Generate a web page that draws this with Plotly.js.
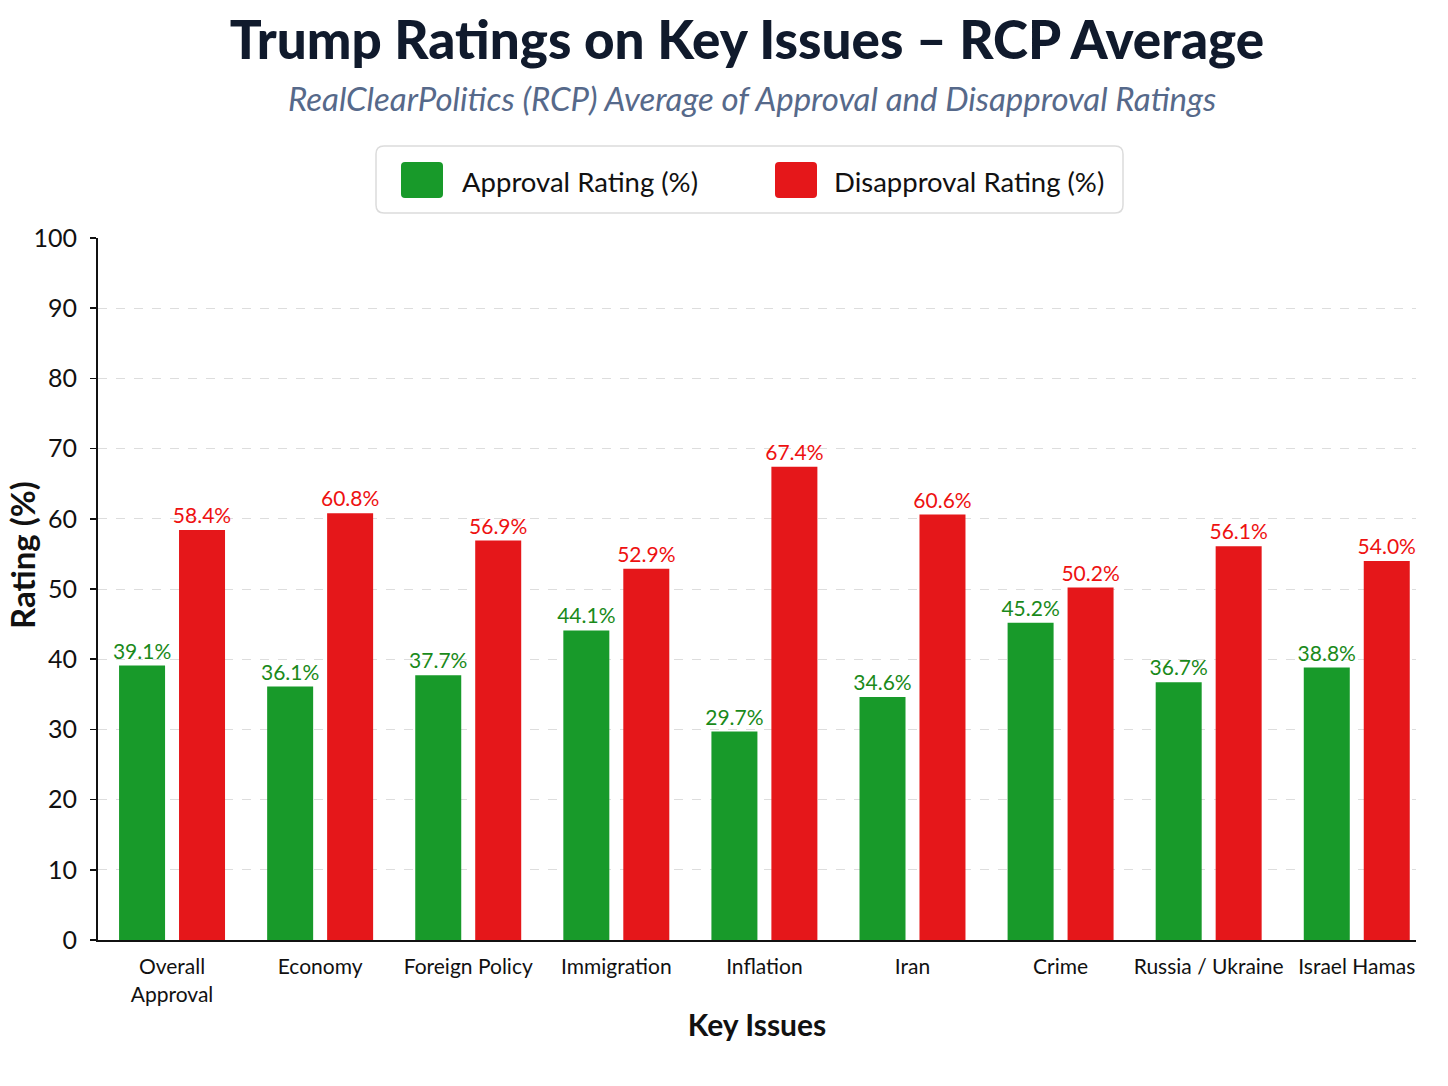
<!DOCTYPE html>
<html>
<head>
<meta charset="utf-8">
<script src="https://cdn.plot.ly/plotly-3.0.1.min.js"></script>
<style>
  html, body { margin: 0; padding: 0; background: #fff; }
  #chart { width: 1448px; height: 1086px; }
</style>
</head>
<body>
<div id="chart"></div>
<script>
const categories = ["Overall<br>Approval", "Economy", "Foreign Policy", "Immigration", "Inflation", "Iran", "Crime", "Russia / Ukraine", "Israel Hamas"];
const approval = [39.1, 36.1, 37.7, 44.1, 29.7, 34.6, 45.2, 36.7, 38.8];
const disapproval = [58.4, 60.8, 56.9, 52.9, 67.4, 60.6, 50.2, 56.1, 54.0];
const yTicks = [0, 10, 20, 30, 40, 50, 60, 70, 80, 90, 100];

const FONT = 'Lato, "Noto Sans", sans-serif';
const GREEN = '#189a2a';
const RED = '#e5171a';

const traces = [
  {
    type: 'bar', name: 'Approval Rating (%)', x: categories, y: approval,
    marker: { color: GREEN },
    text: approval.map(v => v.toFixed(1) + '%'),
    textposition: 'outside', cliponaxis: false, constraintext: 'none',
    textfont: { family: FONT, size: 21, color: '#1a8a1a' },
    showlegend: false, hoverinfo: 'x+y'
  },
  {
    type: 'bar', name: 'Disapproval Rating (%)', x: categories, y: disapproval,
    marker: { color: RED },
    text: disapproval.map(v => v.toFixed(1) + '%'),
    textposition: 'outside', cliponaxis: false, constraintext: 'none',
    textfont: { family: FONT, size: 21, color: '#ee1111' },
    showlegend: false, hoverinfo: 'x+y'
  }
];

const H = 702, W = 1318;
function py(px) { return (940 - px) / H; }
function pxx(px) { return (px - 98) / W; }
function roundRect(x0, y0, x1, y1, r) {
  const rx = r / W, ry = r / H;
  const X0 = pxx(x0), X1 = pxx(x1), Ytop = py(y0), Ybot = py(y1);
  return `M ${X0 + rx} ${Ytop} L ${X1 - rx} ${Ytop} Q ${X1} ${Ytop} ${X1} ${Ytop - ry} ` +
         `L ${X1} ${Ybot + ry} Q ${X1} ${Ybot} ${X1 - rx} ${Ybot} L ${X0 + rx} ${Ybot} ` +
         `Q ${X0} ${Ybot} ${X0} ${Ybot + ry} L ${X0} ${Ytop - ry} Q ${X0} ${Ytop} ${X0 + rx} ${Ytop} Z`;
}

const layout = {
  width: 1448, height: 1086,
  paper_bgcolor: '#ffffff', plot_bgcolor: '#ffffff',
  margin: { l: 98, r: 32, t: 238, b: 146 },
  barmode: 'group', bargap: 0.19, bargroupgap: 0.233,
  title: {
    text: 'Trump Ratings on Key Issues – RCP Average',
    font: { family: FONT, size: 53, color: '#101a2c', weight: 900 },
    x: pxx(747), xanchor: 'center', xref: 'paper', y: 0.963, yanchor: 'middle'
  },
  xaxis: {
    type: 'category', range: [-0.5, 8.4],
    showline: true, linecolor: '#111', linewidth: 2,
    ticks: '', showgrid: false, tickangle: 0, ticklabelstandoff: 7,
    tickfont: { family: FONT, size: 21, color: '#111' },
    title: { text: 'Key Issues', font: { family: FONT, size: 30, color: '#111', weight: 'bold' }, standoff: 10 }
  },
  yaxis: {
    range: [0, 100], tickvals: yTicks, ticktext: yTicks.map(String),
    showline: true, linecolor: '#111', linewidth: 2,
    ticks: 'outside', ticklen: 6, tickcolor: '#111', tickwidth: 1.5,
    showgrid: true, gridcolor: '#dddddd', griddash: 'dash', gridwidth: 1,
    zeroline: false, ticklabelstandoff: 8,
    tickfont: { family: FONT, size: 25, color: '#111' },
    title: { text: '' }
  },
  shapes: [
    { type: 'path', xref: 'paper', yref: 'paper', path: roundRect(376, 146, 1123, 213, 8),
      line: { color: '#dcdcdc', width: 1.5 }, fillcolor: '#ffffff' },
    { type: 'path', xref: 'paper', yref: 'paper', path: roundRect(401, 162, 443, 198, 4),
      line: { width: 0 }, fillcolor: GREEN },
    { type: 'path', xref: 'paper', yref: 'paper', path: roundRect(775, 162, 817, 198, 4),
      line: { width: 0 }, fillcolor: RED }
  ],
  annotations: [
    { text: '<i>RealClearPolitics (RCP) Average of Approval and Disapproval Ratings</i>',
      xref: 'paper', yref: 'paper', x: pxx(752), y: py(98), xanchor: 'center', yanchor: 'middle',
      showarrow: false, font: { family: FONT, size: 33, color: '#56698a' } },
    { text: 'Rating (%)', xref: 'paper', yref: 'paper', x: pxx(22), y: py(555),
      xanchor: 'center', yanchor: 'middle', textangle: -90, showarrow: false,
      font: { family: FONT, size: 33, color: '#111', weight: 'bold' } },
    { text: 'Approval Rating (%)', xref: 'paper', yref: 'paper', x: pxx(460), y: py(181),
      xanchor: 'left', yanchor: 'middle', showarrow: false,
      font: { family: FONT, size: 27.5, color: '#111' } },
    { text: 'Disapproval Rating (%)', xref: 'paper', yref: 'paper', x: pxx(832), y: py(181),
      xanchor: 'left', yanchor: 'middle', showarrow: false,
      font: { family: FONT, size: 27.5, color: '#111' } }
  ]
};

Plotly.newPlot('chart', traces, layout, { displayModeBar: false, staticPlot: true });
</script>
</body>
</html>
